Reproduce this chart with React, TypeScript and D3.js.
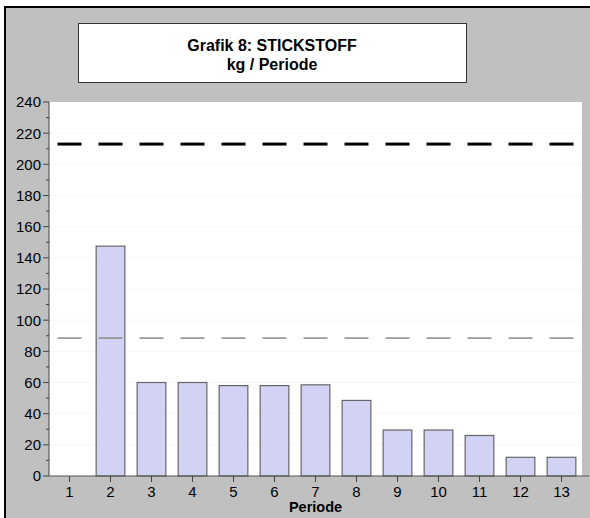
import React from "react";
import * as d3 from "d3";

const categories = ["1", "2", "3", "4", "5", "6", "7", "8", "9", "10", "11", "12", "13"];
const values = [0, 147.5, 60, 60, 58, 58, 58.5, 48.5, 29.5, 29.5, 26, 12, 12];
const upperLimit = 213;
const lowerLimit = 88.5;
const yTicks = [0, 20, 40, 60, 80, 100, 120, 140, 160, 180, 200, 220, 240];
const yMinorTicks = [10, 30, 50, 70, 90, 110, 130, 150, 170, 190, 210, 230];
const titleLines = ["Grafik 8: STICKSTOFF", "kg / Periode"];
const xTitle = "Periode";

const W = 590;
const H = 518;
const plot = { left: 49, right: 582, top: 102, bottom: 476 };

export default function App() {
  const x = d3.scaleBand<string>().domain(categories).range([plot.left, plot.right]).paddingInner(0.3).paddingOuter(0.15);
  const xc = d3.scaleBand<string>().domain(categories).range([plot.left, plot.right]);
  const y = d3.scaleLinear().domain([0, 240]).range([plot.bottom, plot.top]);
  const font = "'Liberation Sans', Arial, sans-serif";
  const segHalf = 12;

  return (
    <svg width={W} height={H} style={{ position: "absolute", left: 0, top: 0 }} fontFamily={font}>
      <rect x={0} y={0} width={W} height={H} fill="#ffffff" />
      <rect x={4} y={6} width={W - 4} height={H - 6} fill="#c0c0c0" />
      <line x1={5} y1={6} x2={5} y2={H} stroke="#000" strokeWidth={2} />
      <line x1={4} y1={7} x2={W} y2={7} stroke="#000" strokeWidth={2} />

      {/* title box */}
      <rect x={78.5} y={23.5} width={388} height={59} fill="#fff" stroke="#333" strokeWidth={1} />
      <text x={272} y={50.5} textAnchor="middle" fontSize={16} fontWeight="bold" fill="#000">{titleLines[0]}</text>
      <text x={272} y={70} textAnchor="middle" fontSize={16} fontWeight="bold" fill="#000">{titleLines[1]}</text>

      {/* plot area */}
      <rect x={plot.left} y={plot.top} width={plot.right - plot.left} height={plot.bottom - plot.top} fill="#fff" />
      {yTicks.slice(1, -1).map((t) => (
        <line key={"g" + t} x1={plot.left} x2={plot.right} y1={y(t)} y2={y(t)} stroke="#f7f7f7" strokeWidth={1} />
      ))}

      {/* bars */}
      {values.map((v, i) =>
        v > 0 ? (
          <rect
            key={"b" + i}
            x={x(categories[i])!}
            y={y(v)}
            width={x.bandwidth()}
            height={y(0) - y(v)}
            fill="#d2d2f4"
            stroke="#666"
            strokeWidth={1.2}
          />
        ) : null
      )}

      {/* limit lines */}
      {categories.map((c) => {
        const cx = xc(c)! + xc.bandwidth() / 2;
        return (
          <g key={"l" + c}>
            <line x1={cx - segHalf} x2={cx + segHalf} y1={y(upperLimit)} y2={y(upperLimit)} stroke="#000" strokeWidth={3} />
            <line x1={cx - segHalf} x2={cx + segHalf} y1={y(lowerLimit)} y2={y(lowerLimit)} stroke="#888" strokeWidth={1.5} />
          </g>
        );
      })}

      {/* y axis */}
      <line x1={plot.left} x2={plot.left} y1={plot.top} y2={plot.bottom} stroke="#444" strokeWidth={1} />
      {yTicks.map((t) => (
        <g key={"yt" + t}>
          <line x1={plot.left - 6} x2={plot.left} y1={y(t)} y2={y(t)} stroke="#444" />
          <text x={plot.left - 8} y={y(t)} dy="0.36em" textAnchor="end" fontSize={15} fill="#000">{t}</text>
        </g>
      ))}
      {yMinorTicks.map((t) => (
        <line key={"ym" + t} x1={plot.left - 3} x2={plot.left} y1={y(t)} y2={y(t)} stroke="#444" />
      ))}

      {/* x axis */}
      <line x1={plot.left} x2={589} y1={plot.bottom} y2={plot.bottom} stroke="#555" strokeWidth={1.2} />
      {categories.map((c) => {
        const cx = xc(c)! + xc.bandwidth() / 2;
        return (
          <g key={"xt" + c}>
            <line x1={cx} x2={cx} y1={plot.bottom} y2={plot.bottom + 6} stroke="#444" />
            <text x={cx} y={497} textAnchor="middle" fontSize={15} fill="#000">{c}</text>
          </g>
        );
      })}
      <text x={xc("7")! + xc.bandwidth() / 2} y={512} textAnchor="middle" fontSize={14.5} fontWeight="bold" fill="#000">{xTitle}</text>
    </svg>
  );
}
